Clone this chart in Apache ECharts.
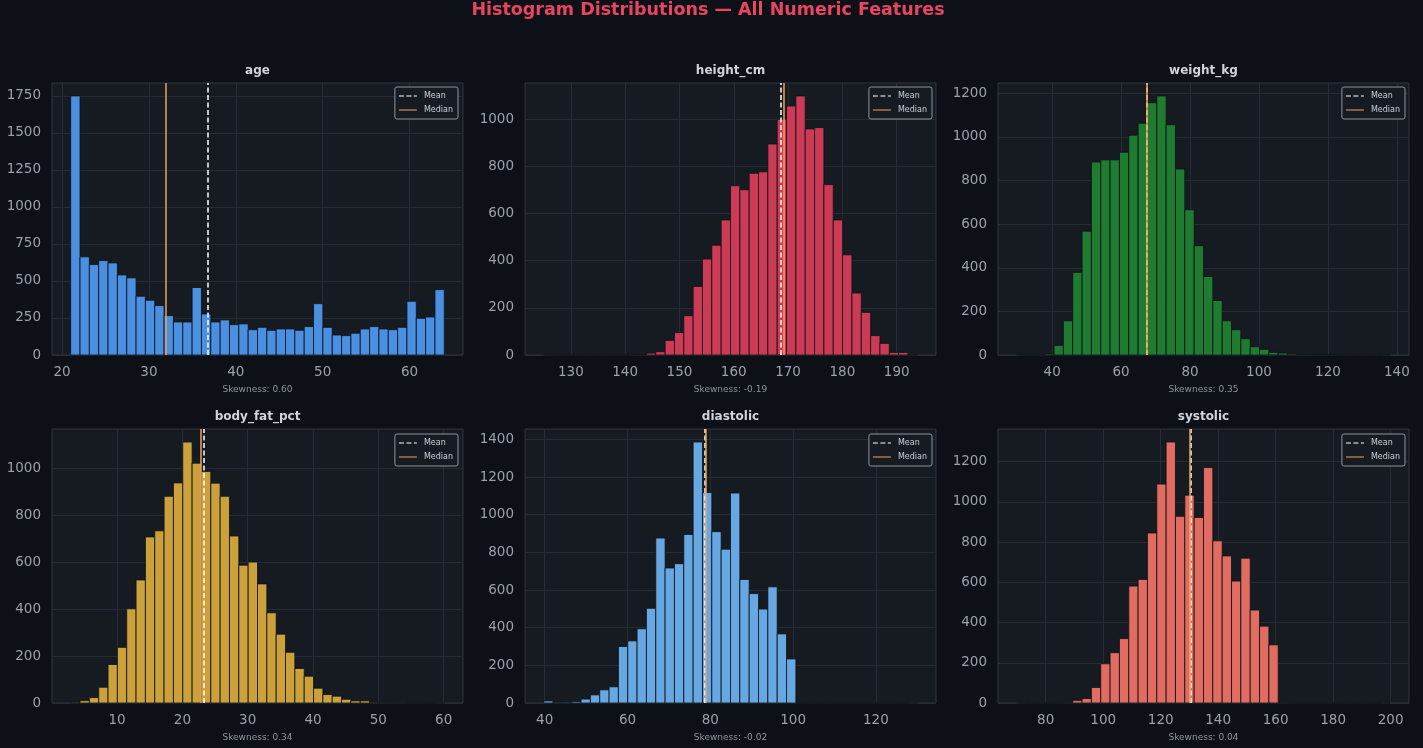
<!DOCTYPE html>
<html>
<head>
<meta charset="utf-8">
<title>Histogram Distributions</title>
<script src="https://cdn.jsdelivr.net/npm/echarts@6/dist/echarts.min.js"></script>
<style>
  html, body { margin: 0; padding: 0; background: #0d1117; }
  #main { width: 1423px; height: 748px; }
</style>
</head>
<body>
<div id="main"></div>
<script>
// panels, left to right, top to bottom
const features = ['age', 'height_cm', 'weight_kg', 'body_fat_pct', 'diastolic', 'systolic'];

// each histogram: first bin edge, bin width, 40 counts
const binStart = [21, 125, 29.7, 2.9, 39.76, 69.9];
const binWidth = [1.075, 1.72, 2.71, 1.43, 2.256, 3.25];

const ageCounts = [1750, 663, 611, 638, 622, 541, 521, 397, 370, 334, 266, 223, 223, 456, 277, 223, 237, 205, 210, 171,
  187, 167, 176, 176, 167, 192, 347, 187, 135, 131, 147, 176, 192, 176, 171, 187, 363, 248, 257, 442];
const heightCounts = [1, 0, 0, 0, 0, 0, 0, 0, 0, 1, 2, 8, 14, 62, 95, 167, 291, 407, 466, 573,
  718, 701, 771, 777, 895, 1000, 1056, 1099, 959, 965, 723, 573, 425, 263, 181, 82, 49, 11, 11, 1];
const weightCounts = [1, 0, 1, 5, 44, 157, 379, 568, 885, 895, 895, 930, 1008, 1063, 1157, 1188, 1056, 853, 666, 501,
  360, 250, 157, 116, 75, 38, 26, 12, 9, 5, 3, 2, 1, 1, 0, 0, 0, 0, 0, 1];
const bodyFatCounts = [3, 10, 23, 67, 164, 237, 401, 524, 707, 733, 880, 937, 1111, 1021, 986, 936, 880, 711, 587, 600,
  507, 384, 293, 216, 147, 114, 63, 36, 29, 16, 9, 9, 3, 2, 1, 1, 0, 0, 0, 1];
const diastolicCounts = [11, 4, 4, 7, 21, 43, 70, 86, 300, 330, 394, 503, 876, 717, 740, 895, 1386, 1118, 910, 817,
  1115, 656, 581, 499, 617, 367, 234, 0, 0, 0, 0, 0, 0, 0, 0, 0, 0, 0, 0, 1];
const systolicCounts = [1, 0, 0, 0, 0, 1, 13, 22, 77, 195, 250, 320, 581, 614, 845, 1088, 1297, 928, 1033, 922,
  1170, 806, 731, 606, 720, 462, 382, 289, 1, 0, 0, 0, 0, 0, 0, 0, 0, 0, 0, 1];
const counts = [ageCounts, heightCounts, weightCounts, bodyFatCounts, diastolicCounts, systolicCounts];

const means = [36.74, 168.65, 67.4, 23.2, 78.6, 130.4];
const medians = [31.97, 169.14, 67.4, 22.76, 78.8, 130.1];
const skewness = ['0.60', '-0.19', '0.35', '0.34', '-0.02', '0.04'];

const xTicks = [
  [20, 30, 40, 50, 60],
  [130, 140, 150, 160, 170, 180, 190],
  [40, 60, 80, 100, 120, 140],
  [10, 20, 30, 40, 50, 60],
  [40, 60, 80, 100, 120],
  [80, 100, 120, 140, 160, 180, 200]
];
const yTicks = [
  [0, 250, 500, 750, 1000, 1250, 1500, 1750],
  [0, 200, 400, 600, 800, 1000],
  [0, 200, 400, 600, 800, 1000, 1200],
  [0, 200, 400, 600, 800, 1000],
  [0, 200, 400, 600, 800, 1000, 1200, 1400],
  [0, 200, 400, 600, 800, 1000, 1200]
];

const barColors = ['#4a8fe0', '#cc3b56', '#1f7b30', '#cba13c', '#68a8e2', '#e06c62'];

const FONT = '"DejaVu Sans", sans-serif';
const BG = '#0d1117';
const PANEL = '#161b22';
const TICK = '#9aa1a9';
const MEAN_COLOR = '#ffffff';
const MEDIAN_COLOR = '#f0a35c';

// layout of the 3x2 grid
const colLeft = [52, 525, 998];
const rowTop = [83, 429];
const rowH = [272, 274];
const plotW = 411;
const legendRight = [965, 491, 18];
const legendTop = [87, 434];

const chart = echarts.init(document.getElementById('main'), null, { renderer: 'canvas' });

const grid = [], xAxis = [], yAxis = [], series = [], legend = [], graphic = [];

graphic.push({
  type: 'text', x: 708, y: 10,
  style: {
    text: 'Histogram Distributions — All Numeric Features',
    fill: '#e94560', font: 'bold 17.5px ' + FONT,
    align: 'center', verticalAlign: 'middle', textAlign: 'center', textVerticalAlign: 'middle'
  }
});

const plainNumber = v => String(v);

features.forEach((name, i) => {
  const col = i % 3, row = Math.floor(i / 3);
  const D = binWidth[i] * counts[i].length;
  const lo = binStart[i] - 0.05 * D;
  const hi = binStart[i] + 1.05 * D;
  const yMax = Math.max(...counts[i]) * 1.05;

  grid.push({
    left: colLeft[col], top: rowTop[row], width: plotW, height: rowH[row],
    show: true, backgroundColor: PANEL, borderColor: '#30363d', borderWidth: 1
  });

  xAxis.push({
    type: 'value', gridIndex: i, min: lo, max: hi,
    axisLine: { show: false },
    axisTick: { show: false, customValues: xTicks[i] },
    axisLabel: { customValues: xTicks[i], formatter: plainNumber, color: TICK, fontSize: 13.5, fontFamily: FONT, margin: 10 },
    splitLine: { show: true, lineStyle: { color: '#262c35', width: 1 } }
  });

  yAxis.push({
    type: 'value', gridIndex: i, min: 0, max: yMax,
    axisLine: { show: false },
    axisTick: { show: false, customValues: yTicks[i] },
    axisLabel: { customValues: yTicks[i], formatter: plainNumber, color: TICK, fontSize: 13.5, fontFamily: FONT, margin: 11 },
    splitLine: { show: true, lineStyle: { color: '#262c35', width: 1 } }
  });

  const bins = counts[i].map((c, k) => [binStart[i] + k * binWidth[i], binStart[i] + (k + 1) * binWidth[i], c]);

  series.push({
    type: 'custom', xAxisIndex: i, yAxisIndex: i,
    data: bins,
    encode: { x: [0, 1], y: 2 },
    renderItem: (params, api) => {
      const p0 = api.coord([api.value(0), api.value(2)]);
      const p1 = api.coord([api.value(1), 0]);
      return {
        type: 'rect',
        shape: { x: p0[0], y: p0[1], width: p1[0] - p0[0], height: p1[1] - p0[1] },
        style: { fill: barColors[i], stroke: BG, lineWidth: 0.8 }
      };
    }
  });

  series.push({
    name: 'Mean', type: 'line', xAxisIndex: i, yAxisIndex: i, data: [],
    symbol: 'none', color: MEAN_COLOR,
    markLine: {
      silent: true, symbol: ['none', 'none'], label: { show: false },
      lineStyle: { color: MEAN_COLOR, type: [5, 2.5], width: 1.5 },
      data: [{ xAxis: means[i] }]
    }
  });

  series.push({
    name: 'Median', type: 'line', xAxisIndex: i, yAxisIndex: i, data: [],
    symbol: 'none', color: MEDIAN_COLOR,
    markLine: {
      silent: true, symbol: ['none', 'none'], label: { show: false },
      lineStyle: { color: MEDIAN_COLOR, type: 'solid', width: 1.5 },
      data: [{ xAxis: medians[i] }]
    }
  });

  legend.push({
    data: [
      { name: 'Mean', icon: 'path://M0,0h5v1h-5zM7.5,0h5v1h-5zM15,0h3v1h-3z' },
      { name: 'Median', icon: 'path://M0,0h18v1h-18z' }
    ],
    orient: 'vertical',
    right: legendRight[col], top: legendTop[row],
    itemWidth: 18, itemHeight: 2, itemGap: 4, padding: [4, 5, 4, 4],
    backgroundColor: PANEL, borderColor: '#8b949e', borderWidth: 1, borderRadius: 2,
    selectedMode: false,
    textStyle: { color: '#c9d1d9', fontSize: 8, fontFamily: FONT, lineHeight: 10, padding: [0, 0, 0, 2] }
  });

  const cx = colLeft[col] + plotW / 2;
  graphic.push({
    type: 'text', x: cx, y: rowTop[row] - 12,
    style: {
      text: name, fill: '#d0d5db', font: 'bold 12px ' + FONT,
      align: 'center', verticalAlign: 'middle', textAlign: 'center', textVerticalAlign: 'middle'
    }
  });
  graphic.push({
    type: 'text', x: cx, y: rowTop[row] + rowH[row] + 35,
    style: {
      text: 'Skewness: ' + skewness[i], fill: '#8b949e', font: '9px ' + FONT,
      align: 'center', verticalAlign: 'middle', textAlign: 'center', textVerticalAlign: 'middle'
    }
  });
});

chart.setOption({
  backgroundColor: BG,
  animation: false,
  grid, xAxis, yAxis, series, legend, graphic
});
</script>
</body>
</html>
